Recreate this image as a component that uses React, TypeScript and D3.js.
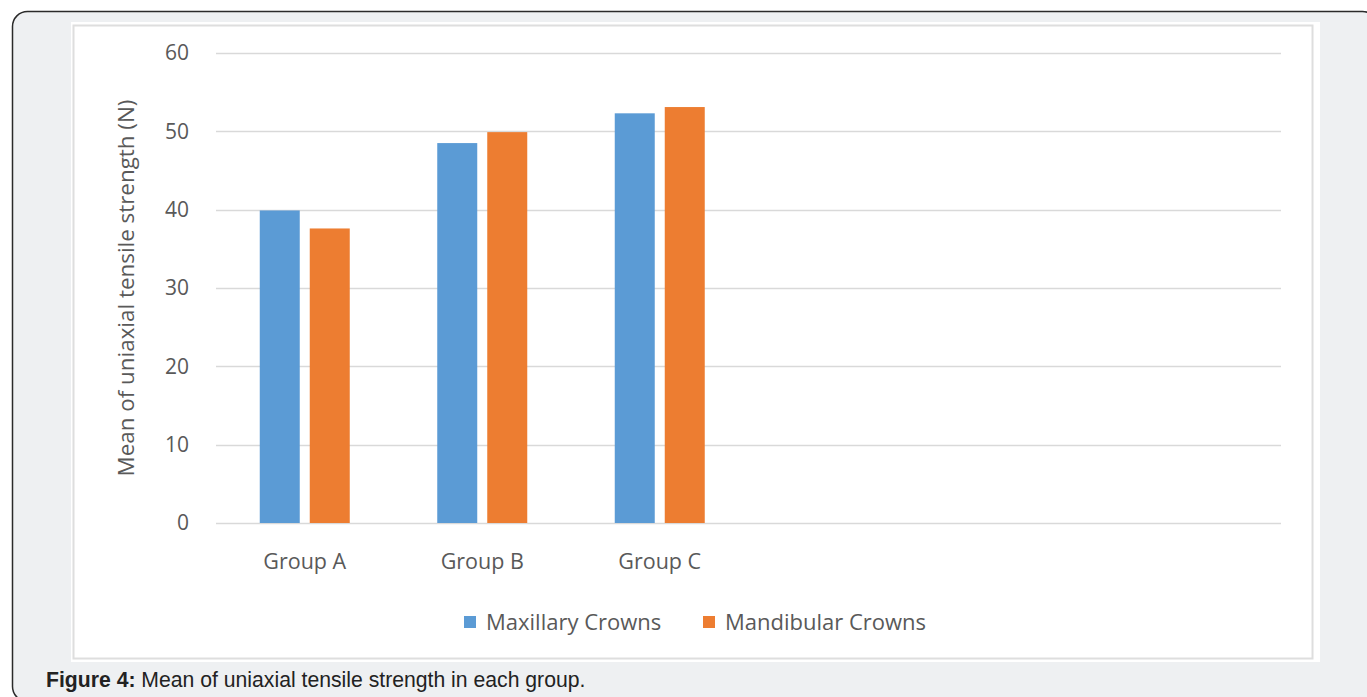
import { useEffect, useRef } from "react";
import * as d3 from "d3";

// categories shown on the axis; the chart reserves 6 slots, last three are empty
const categories = ["Group A", "Group B", "Group C"];
const SLOT_COUNT = 6;

const seriesNames = ["Maxillary Crowns", "Mandibular Crowns"];
const maxillary = [39.9, 48.5, 52.3];
const mandibular = [37.6, 49.9, 53.1];

const yTicks = [0, 10, 20, 30, 40, 50, 60];

const COLORS = ["#5b9bd5", "#ed7d31"];
const TEXT = "#595959";
const FONT = "'Open Sans', 'DejaVu Sans', sans-serif";

const W = 1367;
const H = 697;

export default function App() {
  const svgRef = useRef<SVGSVGElement | null>(null);

  useEffect(() => {
    const svg = svgRef.current;
    if (!svg) return;
    svg.innerHTML = "";
    const root = d3.select(svg).attr("width", W).attr("height", H);

    // outer frame
    root.append("rect").attr("width", W).attr("height", H).attr("fill", "#fff");
    root
      .append("rect")
      .attr("x", 12.5)
      .attr("y", 11.5)
      .attr("width", 1365)
      .attr("height", 690)
      .attr("rx", 15)
      .attr("fill", "#eef0f2")
      .attr("stroke", "#2a2a2a")
      .attr("stroke-width", 1.5);

    // white chart panel
    root.append("rect")
      .attr("x", 71).attr("y", 22)
      .attr("width", 1249).attr("height", 640)
      .attr("fill", "#fff");
    root.append("rect")
      .attr("x", 73.5).attr("y", 25.5)
      .attr("width", 1239).attr("height", 633)
      .attr("fill", "none")
      .attr("stroke", "#dedede")
      .attr("stroke-width", 2);

    const left = 216, right = 1281, top = 53, bottom = 523;

    const x0 = d3
      .scaleBand<number>()
      .domain(d3.range(SLOT_COUNT))
      .range([left, right])
      .padding(0);

    const groupW = 90;
    const x1 = d3
      .scaleBand<number>()
      .domain([0, 1])
      .range([0, groupW])
      .paddingInner(0.2);

    const y = d3.scaleLinear().domain([0, 60]).range([bottom, top]);

    // gridlines
    root
      .append("g")
      .selectAll("line")
      .data(yTicks)
      .join("line")
      .attr("x1", left)
      .attr("x2", right)
      .attr("y1", (d) => Math.round(y(d)) + 0.5)
      .attr("y2", (d) => Math.round(y(d)) + 0.5)
      .attr("stroke", "#d9d9d9")
      .attr("stroke-width", 1.5);

    // y tick labels
    root
      .append("g")
      .selectAll("text")
      .data(yTicks)
      .join("text")
      .attr("x", 189)
      .attr("y", (d) => y(d))
      .attr("dy", "0.35em")
      .attr("text-anchor", "end")
      .attr("fill", TEXT)
      .style("font-family", FONT)
      .style("font-size", "21px")
      .text((d) => d);

    // y axis title
    root
      .append("text")
      .attr("transform", `translate(126,${(top + bottom) / 2}) rotate(-90)`)
      .attr("dy", "0.35em")
      .attr("text-anchor", "middle")
      .attr("fill", TEXT)
      .style("font-family", FONT)
      .style("font-size", "22.4px")
      .text("Mean of uniaxial tensile strength (N)");

    // bars
    const series = [maxillary, mandibular];
    categories.forEach((_, i) => {
      const gx = x0(i)! + x0.bandwidth() / 2 - groupW / 2;
      series.forEach((vals, s) => {
        root
          .append("rect")
          .attr("x", gx + x1(s)!)
          .attr("y", y(vals[i]))
          .attr("width", x1.bandwidth())
          .attr("height", bottom - y(vals[i]))
          .attr("fill", COLORS[s]);
      });
    });

    // x labels
    root
      .append("g")
      .selectAll("text")
      .data(categories)
      .join("text")
      .attr("x", (_, i) => x0(i)! + x0.bandwidth() / 2)
      .attr("y", 561)
      .attr("dy", "0.35em")
      .attr("text-anchor", "middle")
      .attr("fill", TEXT)
      .style("font-family", FONT)
      .style("font-size", "21.5px")
      .text((d) => d);

    // legend
    const legendX = [464, 703];
    seriesNames.forEach((name, s) => {
      root
        .append("rect")
        .attr("x", legendX[s])
        .attr("y", 616)
        .attr("width", 12)
        .attr("height", 12)
        .attr("fill", COLORS[s]);
      root
        .append("text")
        .attr("x", legendX[s] + 22)
        .attr("y", 622)
        .attr("dy", "0.35em")
        .attr("fill", TEXT)
        .style("font-family", FONT)
        .style("font-size", "22px")
        .text(name);
    });

    // caption
    const cap = root
      .append("text")
      .attr("x", 46)
      .attr("y", 687)
      .attr("fill", "#222")
      .style("font-family", "'Liberation Sans', Arial, sans-serif")
      .style("font-size", "21.2px");
    cap.append("tspan").style("font-weight", "bold").text("Figure 4:");
    cap.append("tspan").text(" Mean of uniaxial tensile strength in each group.");
  }, []);

  return (
    <svg
      ref={svgRef}
      style={{ position: "absolute", left: 0, top: 0, display: "block" }}
    />
  );
}
